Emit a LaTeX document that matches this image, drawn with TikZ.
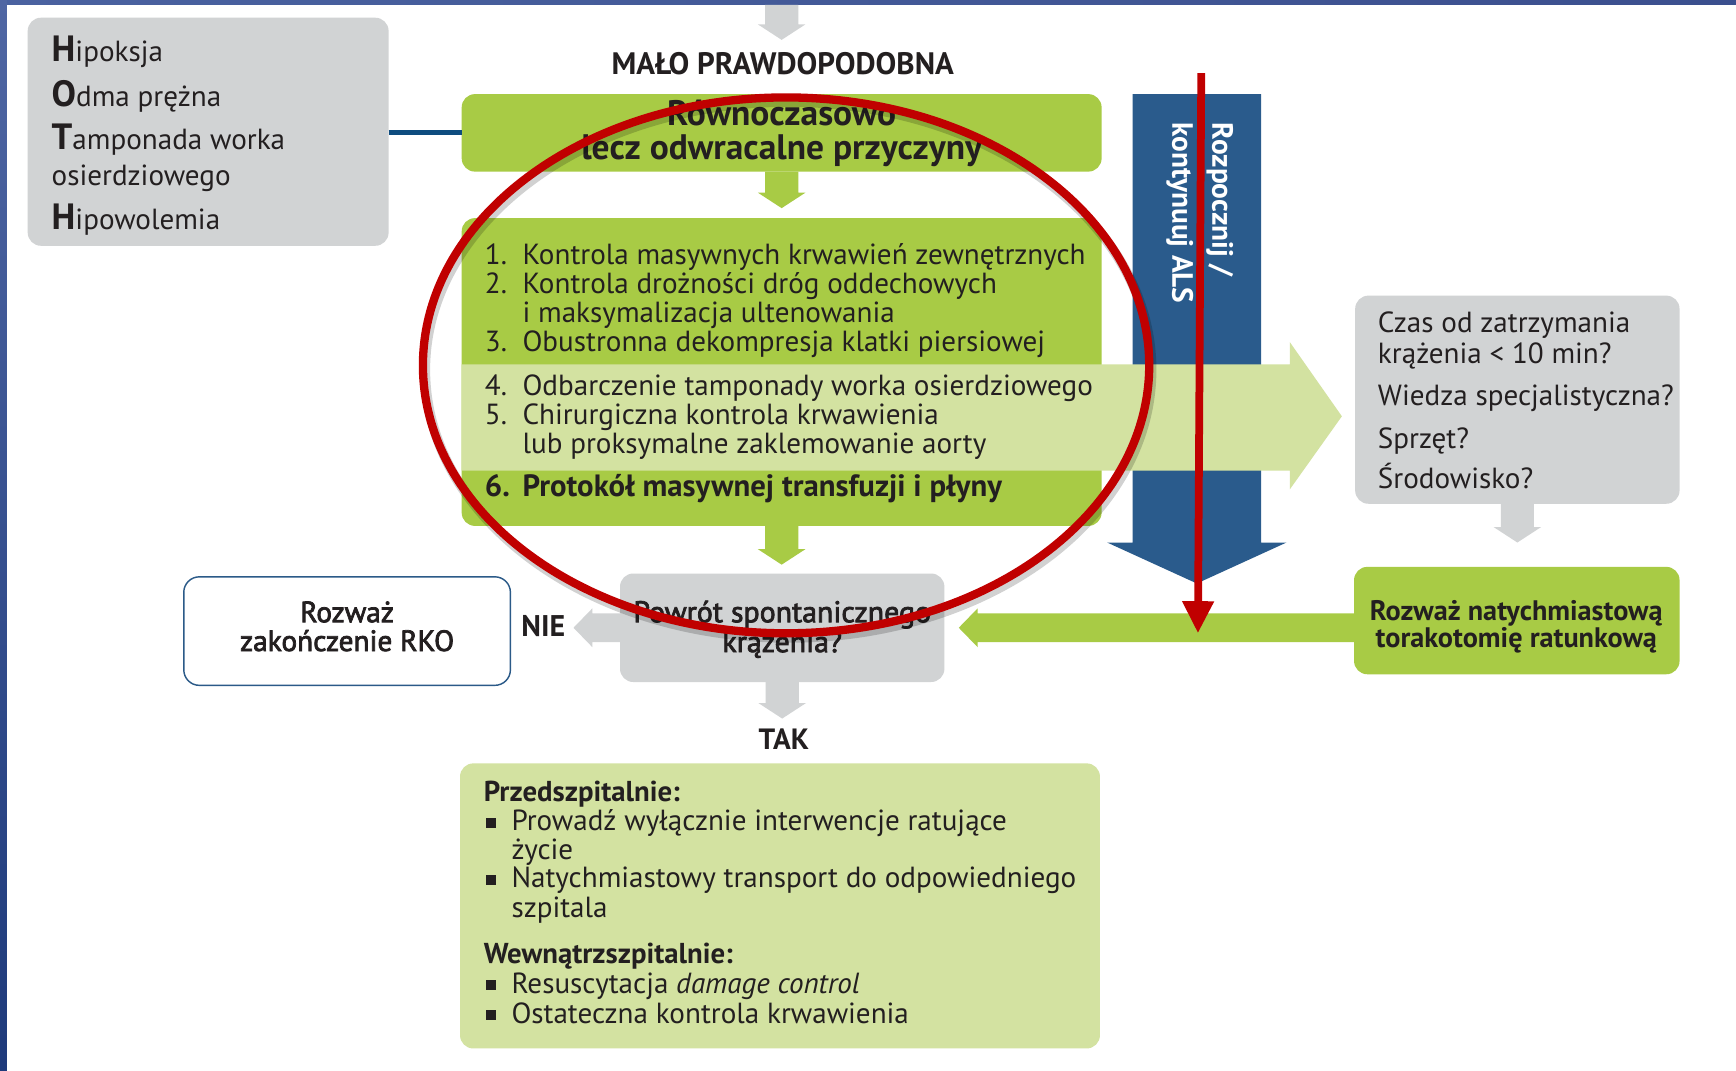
\documentclass[tikz,border=0pt]{standalone}
\usepackage{fontspec}
\setmainfont{PT Sans}
\newfontfamily\semib[FakeBold=2.5]{PT Sans}
\usetikzlibrary{calc,arrows.meta}
\definecolor{ink}{HTML}{231F20}
\definecolor{gr}{HTML}{A8CB45}
\definecolor{lgr}{HTML}{D3E2A1}
\definecolor{gy}{HTML}{D1D3D4}
\definecolor{bbar}{HTML}{2A5B8C}
\definecolor{hline}{HTML}{0E4C7F}
\definecolor{rd}{HTML}{C00000}
\definecolor{rkob}{HTML}{2B5A88}
\definecolor{tb1}{HTML}{4A62A0}
\definecolor{tb2}{HTML}{B2C0E2}
\definecolor{tb3}{HTML}{3B4F8E}
\definecolor{lb1}{HTML}{4F66A3}
\definecolor{lb2}{HTML}{1E3A7B}
\newcommand\setfs[1]{\fontsize{#1}{#1}\selectfont}
\newcommand\vblk[3]{\fill[#1] ($(#2)+(-15,0)$) -- ($(#2)+(15,0)$) -- ($(#3)+(15,-14)$) -- ($(#3)+(21.5,-14)$) -- (#3) -- ($(#3)+(-21.5,-14)$) -- ($(#3)+(-15,-14)$) -- cycle;}
\newcommand\hblk[3]{\fill[#1] ($(#2)+(0,-13)$) -- ($(#3)+(17,-13)$) -- ($(#3)+(17,-17.5)$) -- (#3) -- ($(#3)+(17,17.5)$) -- ($(#3)+(17,13)$) -- ($(#2)+(0,13)$) -- cycle;}
\begin{document}
\begin{tikzpicture}[x=1pt,y=-1pt,
  box/.style={rectangle, rounded corners=12, inner sep=0pt, outer sep=0pt},
  t/.style={inner sep=0pt, outer sep=0pt, text=ink, anchor=base west, font=\setfs{26.3}},
  tc/.style={t, anchor=base}]
\useasboundingbox (0,0) rectangle (1568,967);
\fill[white] (0,0) rectangle (1568,967);
\shade[left color=tb1, middle color=tb2, right color=tb3] (0,0) rectangle (1568,4.5);
\shade[top color=lb1, bottom color=lb2] (0,0) rectangle (6.3,967);

% boxes
\node[box, fill=gy, minimum width=326, minimum height=206] (hoth) at (188,119) {};
\node[box, fill=gr, minimum width=578, minimum height=70] (rown) at (706,120) {};
\draw[hline, line width=4.5] (hoth.east |- rown.west) -- (rown.west);
\node[box, fill=gr, minimum width=578, minimum height=278] (list) at (706,336) {};
\fill[bbar] (1023,85) -- (1139,85) -- (1139,490) -- (1162,490) -- (1081,527) -- (1000,490) -- (1023,490) -- cycle;
\fill[lgr] (417,329) -- (1165,329) -- (1165,309) -- (1212,376) -- (1165,442) -- (1165,425) -- (417,425) -- cycle;
\node[box, fill=gy, minimum width=293, minimum height=188] (czas) at (1370.5,361) {};
\node[box, fill=gr, minimum width=294, minimum height=97] (rozwaz) at (1370,560.5) {};
\node[box, fill=gy, minimum width=293, minimum height=98] (powrot) at (706.5,567) {};
\node[box, draw=rkob, line width=1.3, fill=white, rounded corners=14, minimum width=295, minimum height=98] (rko) at (313.5,570) {};
\node[box, fill=lgr, minimum width=578, minimum height=257.5] (bot) at (704.5,818.25) {};

% block arrows
\coordinate (topin) at (706,4.5);
\coordinate (toptip) at (706,36);
\vblk{gy}{topin}{toptip}
\coordinate (g1tip) at ($(rown.south)+(0,33)$);
\vblk{gr}{rown.south}{g1tip}
\coordinate (g2tip) at ($(list.south)+(0,35)$);
\vblk{gr}{list.south}{g2tip}
\coordinate (taktip) at ($(powrot.south)+(0,33)$);
\vblk{gy}{powrot.south}{taktip}
\coordinate (cztip) at ($(czas.south)+(0,35)$);
\vblk{gy}{czas.south}{cztip}
\coordinate (nietip) at ($(powrot.west)+(-42,0)$);
\hblk{gy}{powrot.west}{nietip}
\coordinate (gstart) at (rozwaz.west |- powrot.west);
\coordinate (gtip) at ($(powrot.east)+(13,0)$);
\hblk{gr}{gstart}{gtip}

% HOTH
\node[t] (h1) at (46.7,55.7) {\textbf{\setfs{33}H}ipoksja};
\node[t] (h2) at (46.7,95.8) {\textbf{\setfs{33}O}dma prężna};
\node[t] (h3) at (46.7,134.6) {\textbf{\setfs{33}T}amponada worka};
\node[t] (h4) at (46.7,167.1) {osierdziowego};
\node[t] (h5) at (46.7,207.2) {\textbf{\setfs{33}H}ipowolemia};

\node[tc, font=\bfseries\setfs{28}] (malo) at (707,67) {MAŁO PRAWDOPODOBNA};
\node[tc, font=\bfseries\setfs{32}] (r1) at (706,113) {Równoczasowo};
\node[tc, font=\bfseries\setfs{32}] (r2) at (706,144) {lecz odwracalne przyczyny};

% list
\node[t] (n1) at (438,238.5) {1.};
\node[t] (l1) at (472,238.5) {Kontrola masywnych krwawień zewnętrznych};
\node[t] (n2) at (438,265) {2.};
\node[t] (l2) at (472,265) {Kontrola drożności dróg oddechowych};
\node[t] (l2b) at (472,291.5) {i maksymalizacja ultenowania};
\node[t] (n3) at (438,317.6) {3.};
\node[t] (l3) at (472,317.6) {Obustronna dekompresja klatki piersiowej};
\node[t] (n4) at (438,356.8) {4.};
\node[t] (l4) at (472,356.8) {Odbarczenie tamponady worka osierdziowego};
\node[t] (n5) at (438,383) {5.};
\node[t] (l5) at (472,383) {Chirurgiczna kontrola krwawienia};
\node[t] (l5b) at (472,409.5) {lub proksymalne zaklemowanie aorty};
\node[t, font=\bfseries\setfs{27.8}] (n6) at (438,448.6) {6.};
\node[t, font=\bfseries\setfs{27.8}] (l6) at (472,448.6) {Protokół masywnej transfuzji i płyny};

% ALS bar text
\node[t, rotate=-90, text=white, font=\bfseries\setfs{26.5}] (als1) at (1095,111) {Rozpocznij /};
\node[t, rotate=-90, text=white, font=\bfseries\setfs{26.5}] (als2) at (1059,111) {kontynuuj ALS};

% czas
\node[t] (c1) at (1244.6,300.5) {Czas od zatrzymania};
\node[t] (c2) at (1244.6,328) {krążenia < 10 min?};
\node[t] (c3) at (1244.6,366.5) {Wiedza specjalistyczna?};
\node[t] (c4) at (1244.6,405) {Sprzęt?};
\node[t] (c5) at (1244.6,441.5) {Środowisko?};

\node[tc, font=\bfseries\setfs{25.5}] (z1) at (1369.5,560) {Rozważ natychmiastową};
\node[tc, font=\bfseries\setfs{25.5}] (z2) at (1369.5,585) {torakotomię ratunkową};

\node[tc, font=\semib\setfs{27}] (p1) at (706.5,562) {Powrót spontanicznego};
\node[tc, font=\semib\setfs{27}] (p2) at (706.5,589) {krążenia?};
\node[tc, font=\semib\setfs{26.5}] (k1) at (313.5,562) {Rozważ};
\node[tc, font=\semib\setfs{26.5}] (k2) at (313.5,588) {zakończenie RKO};
\node[t, font=\bfseries\setfs{27}] (nie) at (471,575) {NIE};
\node[tc, font=\bfseries\setfs{26.5}] (tak) at (708,677) {TAK};

% bottom box
\node[t, font=\bfseries\setfs{26}] (bh1) at (437,724) {Przedszpitalnie:};
\node[t] (q1) at (439,750) {\rule[2.5pt]{9pt}{9pt}};
\node[t] (b1) at (462,750) {Prowadź wyłącznie interwencje ratujące};
\node[t] (b1b) at (462,776) {życie};
\node[t] (q2) at (439,802) {\rule[2.5pt]{9pt}{9pt}};
\node[t] (b2) at (462,802) {Natychmiastowy transport do odpowiedniego};
\node[t] (b2b) at (462,829) {szpitala};
\node[t, font=\bfseries\setfs{26}] (bh2) at (437,870) {Wewnątrzszpitalnie:};
\node[t] (q3) at (439,897) {\rule[2.5pt]{9pt}{9pt}};
\node[t] (b3) at (462,897) {Resuscytacja \textit{damage control}};
\node[t] (q4) at (439,924) {\rule[2.5pt]{9pt}{9pt}};
\node[t] (b4) at (462,924) {Ostateczna kontrola krwawienia};

% red annotations
\coordinate (ellc) at (710,330);
\draw[black, opacity=.18, line width=9] ($(ellc)+(2,4)$) ellipse [x radius=328, y radius=242];
\draw[rd, line width=7.5] (ellc) ellipse [x radius=328, y radius=242];
\coordinate (redtop) at (1085,66);
\coordinate (redtip) at (1082,572);
\draw[rd, line width=7, -{Triangle[width=27pt,length=29pt]}] (redtop) -- (redtip);
\end{tikzpicture}
\end{document}
